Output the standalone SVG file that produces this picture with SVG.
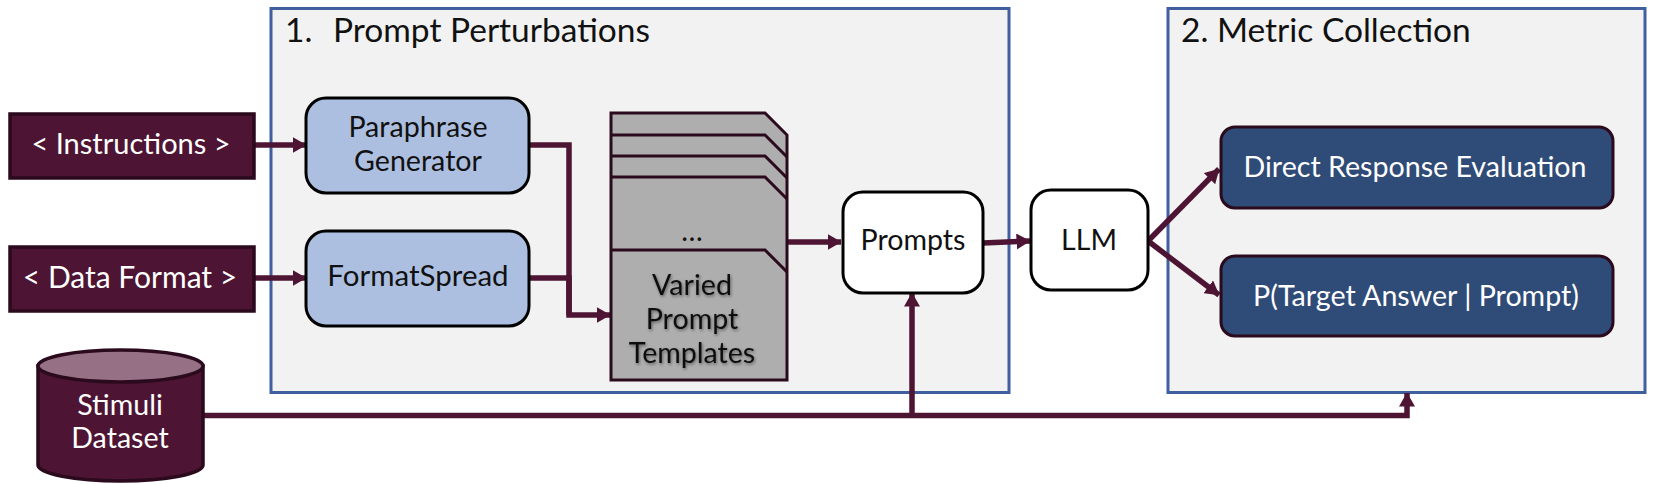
<svg xmlns="http://www.w3.org/2000/svg" width="1656" height="484" viewBox="0 0 1656 484">
<defs>
<style>
text{font-family:Lato,"Open Sans","Liberation Sans",sans-serif;text-anchor:middle;font-size:28.6px}
.panel{fill:#f2f2f2;stroke:#3f5f9f;stroke-width:3}
.title{font-size:33.5px;fill:#111;text-anchor:start}
.input{fill:#4d1533;stroke:#2a0a1c;stroke-width:3.5}
.w{fill:#fff}
.k{fill:#111}
.blue{fill:#adbfe0;stroke:#000;stroke-width:3}
.white{fill:#fff;stroke:#000;stroke-width:3}
.navy{fill:#2f4b77;stroke:#2a0a1c;stroke-width:3}
.page{fill:#aeaeae;stroke:#2a0a1c;stroke-width:3;stroke-linejoin:miter}
.fold{fill:none;stroke:#2a0a1c;stroke-width:3}
.c{fill:none;stroke:#4d1533;stroke-width:5.5}
</style>
<marker id="arrow" markerUnits="userSpaceOnUse" markerWidth="14" markerHeight="16" refX="13.5" refY="8" orient="auto"><path d="M0 0L14 8L0 16Z" fill="#4d1533"/></marker>
<filter id="soft" x="-10%" y="-10%" width="120%" height="120%"><feDropShadow dx="1" dy="1.5" stdDeviation="1.5" flood-color="#000" flood-opacity=".45"/></filter>
</defs>
<rect width="1656" height="484" fill="#fff"/>
<g id="panel-1"><rect class="panel" x="271" y="8.500" width="738" height="384"/><text class="title" x="285" y="42">1.</text><text class="title" x="333" y="42">Prompt Perturbations</text></g>
<g id="panel-2"><rect class="panel" x="1168" y="8.500" width="477" height="384"/><text class="title" x="1181" y="42">2. Metric Collection</text></g>
<g id="connectors">
<path class="c" d="M255 145H306" marker-end="url(#arrow)"/>
<path class="c" d="M255 278H306" marker-end="url(#arrow)"/>
<path class="c" d="M529 145H569V315"/>
<path class="c" d="M529 278H569V315H610" marker-end="url(#arrow)"/>
<path class="c" d="M786 242H841" marker-end="url(#arrow)"/>
<path class="c" d="M983 243L1030 241" marker-end="url(#arrow)"/>
<path class="c" d="M1148 241L1219 169" marker-end="url(#arrow)"/>
<path class="c" d="M1148 241L1219 295" marker-end="url(#arrow)"/>
<path class="c" d="M203 415.500H1407V393" marker-end="url(#arrow)"/>
<path class="c" d="M912 415.500V293" marker-end="url(#arrow)"/>
</g>
<g id="instructions"><rect class="input" x="10" y="114" width="244" height="64"/><text class="w" x="131" y="154" style="font-size:29px">&lt; Instructions &gt;</text></g>
<g id="data-format"><rect class="input" x="10" y="247" width="244" height="64"/><text class="w" x="130" y="288" style="font-size:30px">&lt; Data Format &gt;</text></g>
<g id="stimuli-dataset"><path class="input" d="M38 366V465A82.500 16 0 0 0 203 465V366Z"/><ellipse cx="120.500" cy="366" rx="82.500" ry="16" fill="#967085" stroke="#2a0a1c" stroke-width="3.500"/><text class="w" x="120" y="415">Stimuli</text><text class="w" x="120" y="448">Dataset</text></g>
<g id="paraphrase-generator"><rect class="blue" x="306" y="98" width="223" height="95" rx="20"/><text class="k" x="418" y="137">Paraphrase</text><text class="k" x="418" y="171">Generator</text></g>
<g id="formatspread"><rect class="blue" x="306" y="231" width="223" height="95" rx="20"/><text class="k" x="418" y="286" style="font-size:29.500px">FormatSpread</text></g>
<g id="varied-prompt-templates">
<path class="page" d="M611 113H765L787 135V380H611Z"/>
<path class="fold" d="M611 135H765L787 157M611 156H765L787 178M611 177H765L787 199M611 250H765L787 272"/>
<text class="k" x="692" y="241">…</text>
<g filter="url(#soft)"><text class="k" x="692" y="295">Varied</text><text class="k" x="692" y="329">Prompt</text><text class="k" x="692" y="363">Templates</text></g>
</g>
<g id="prompts"><rect class="white" x="843" y="192" width="140" height="101" rx="20"/><text class="k" x="913" y="250">Prompts</text></g>
<g id="llm"><rect class="white" x="1031" y="190" width="117" height="100" rx="20"/><text class="k" x="1089" y="250">LLM</text></g>
<g id="direct-response"><rect class="navy" x="1221" y="127" width="392" height="81" rx="14"/><text class="w" x="1415" y="177">Direct Response Evaluation</text></g>
<g id="target-answer"><rect class="navy" x="1221" y="256" width="392" height="80" rx="14"/><text class="w" x="1416" y="306">P(Target Answer | Prompt)</text></g>
</svg>
